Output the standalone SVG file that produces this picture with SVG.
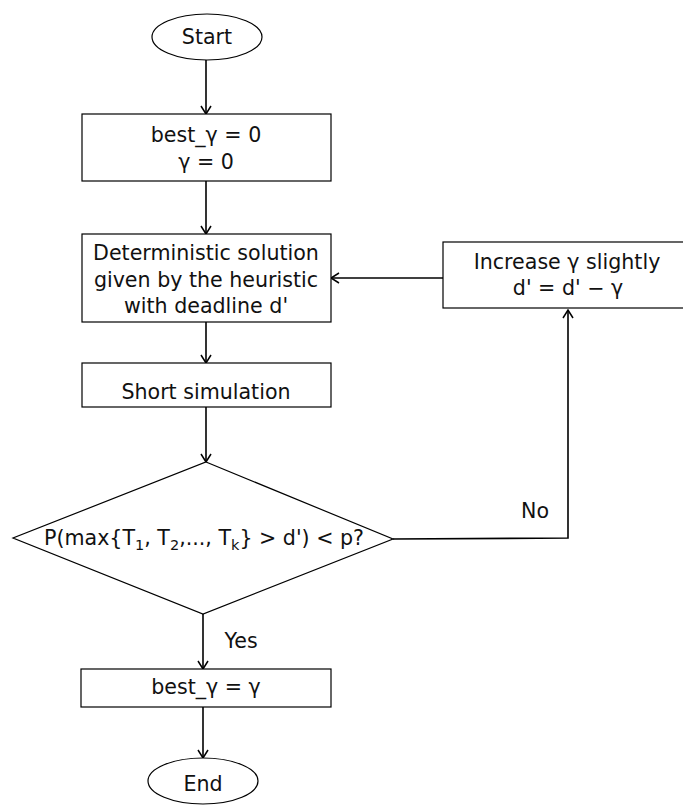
<svg xmlns="http://www.w3.org/2000/svg" width="683" height="805" viewBox="0 0 683 805">
<style>
.s{fill:#fff;stroke:#000;stroke-width:1.2}
.t{font-family:"DejaVu Sans",Verdana,sans-serif;font-size:20.6px;fill:#111;text-anchor:middle;dominant-baseline:central}
.c{fill:none;stroke:#000;stroke-width:1.6}
</style>
<defs>
<marker id="a" viewBox="0 0 12 12" refX="11" refY="6" markerWidth="12" markerHeight="12" markerUnits="userSpaceOnUse" orient="auto">
<path d="M3,1 L11,6 L3,11" fill="none" stroke="#000" stroke-width="1.5"/>
</marker>
</defs>
<rect width="683" height="805" fill="#fff"/>
<g id="connectors">
<line class="c" x1="206" y1="60" x2="206" y2="114" marker-end="url(#a)"/>
<line class="c" x1="206" y1="181" x2="206" y2="234" marker-end="url(#a)"/>
<line class="c" x1="206" y1="322" x2="206" y2="363" marker-end="url(#a)"/>
<line class="c" x1="206" y1="407" x2="206" y2="462" marker-end="url(#a)"/>
<line class="c" x1="443" y1="278" x2="331" y2="278" marker-end="url(#a)"/>
<polyline class="c" points="393,539 568,538 568,310" marker-end="url(#a)"/>
<line class="c" x1="203" y1="614" x2="203" y2="669" marker-end="url(#a)"/>
<line class="c" x1="203" y1="707" x2="203" y2="758" marker-end="url(#a)"/>
<text class="t" x="535" y="511">No</text>
<text class="t" x="241" y="641">Yes</text>
</g>
<g id="start">
<ellipse class="s" cx="207" cy="37" rx="55" ry="23"/>
<text class="t" x="207" y="37">Start</text>
</g>
<g id="init">
<rect class="s" x="82" y="114" width="249" height="67"/>
<text class="t" x="206" y="135">best_γ = 0</text>
<text class="t" x="206" y="162">γ = 0</text>
</g>
<g id="deterministic">
<rect class="s" x="82" y="234" width="249" height="88"/>
<text class="t" x="206" y="253">Deterministic solution</text>
<text class="t" x="206" y="280">given by the heuristic</text>
<text class="t" x="206" y="306">with deadline d'</text>
</g>
<g id="increase">
<rect class="s" x="443" y="242" width="250" height="66"/>
<text class="t" x="567" y="262">Increase γ slightly</text>
<text class="t" x="568" y="288">d' = d' − γ</text>
</g>
<g id="short">
<rect class="s" x="82" y="363" width="249" height="44"/>
<text class="t" x="206" y="392">Short simulation</text>
</g>
<g id="decision">
<polygon class="s" points="206,462 393,539 203,614 13,538"/>
<text x="204" y="545" style="font-family:'DejaVu Sans',Verdana,sans-serif;font-size:20.6px;fill:#111;text-anchor:middle">P(max{T<tspan font-size="14.5" dy="5">1</tspan><tspan dy="-5">, T</tspan><tspan font-size="14.5" dy="5">2</tspan><tspan dy="-5">,..., T</tspan><tspan font-size="14.5" dy="5">k</tspan><tspan dy="-5">} &gt; d') &lt; p?</tspan></text>
</g>
<g id="best">
<rect class="s" x="81" y="669" width="250" height="38"/>
<text class="t" x="206" y="687">best_γ = γ</text>
</g>
<g id="end">
<ellipse class="s" cx="203" cy="781" rx="55" ry="23"/>
<text class="t" x="203" y="784">End</text>
</g>
</svg>
